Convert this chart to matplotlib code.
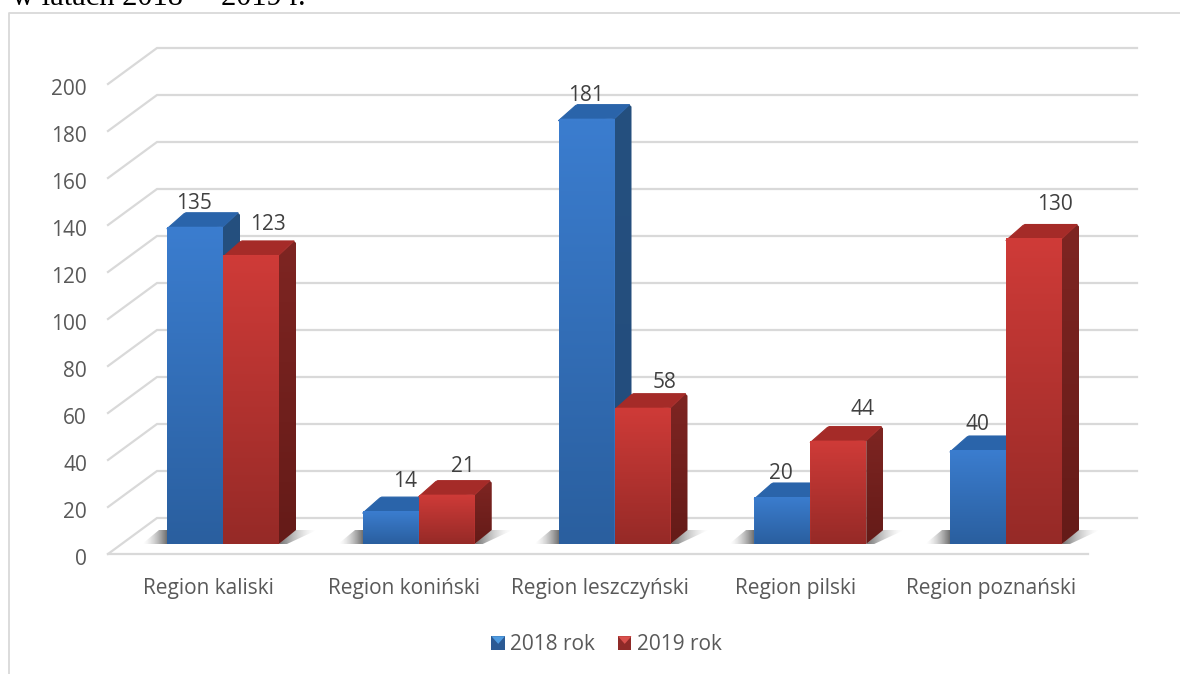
##Bar chart with a fake 3D look, regions 2018 vs 2019
import numpy as np
import matplotlib
matplotlib.use('Agg')
import matplotlib.pyplot as plt
from matplotlib.colors import to_rgb
from matplotlib.legend_handler import HandlerBase
from matplotlib.patches import Patch, Polygon, Rectangle

regions = ['Region kaliski', 'Region koniński', 'Region leszczyński', 'Region pilski', 'Region poznański']
values_2018 = [135, 14, 181, 20, 40]
values_2019 = [123, 21, 58, 44, 130]
series_names = ['2018 rok', '2019 rok']
y_ticks = [0, 20, 40, 60, 80, 100, 120, 140, 160, 180, 200]

plt.rcParams['font.family'] = ['Open Sans', 'DejaVu Sans']

#scale of the front plane of the bars, in pixels
px_per_cat = 195.75
px_per_val = 2.35
x0_px = 223
y0_px = 544

fig = plt.figure(figsize=(11.8, 6.74), dpi=100)
ax = fig.add_axes([0, 0, 1, 1])
ax.set_xlim(-x0_px / px_per_cat, (1180 - x0_px) / px_per_cat)
ax.set_ylim((y0_px - 674) / px_per_val, y0_px / px_per_val)
ax.axis('off')


def dx(px):
    return px / px_per_cat


def dy(px):
    return px / px_per_val


def gradient(points, top, bottom, zorder):
    #polygon filled with a vertical gradient
    points = np.array(points)
    colors = np.linspace(to_rgb(top), to_rgb(bottom), 64).reshape(64, 1, 3)
    extent = [points[:, 0].min(), points[:, 0].max(), points[:, 1].min(), points[:, 1].max()]
    im = ax.imshow(colors, extent=extent, origin='upper', aspect='auto', zorder=zorder, interpolation='bilinear')
    clip = Polygon(points, closed=True, transform=ax.transData, fc='none', ec='none')
    ax.add_patch(clip)
    im.set_clip_path(clip)


def shadow(points, dark_side, zorder):
    #soft grey shadow on the floor, dark_side says where it is darkest
    points = np.array(points)
    n = 64
    rgba = np.zeros((n, n, 4))
    rgba[:, :, :3] = 0.3
    ramp = np.linspace(0, 1, n) if dark_side == 'right' else np.linspace(1, 0, n)
    rgba[:, :, 3] = ramp[None, :] ** 1.6 * 0.8
    extent = [points[:, 0].min(), points[:, 0].max(), points[:, 1].min(), points[:, 1].max()]
    im = ax.imshow(rgba, extent=extent, origin='upper', aspect='auto', zorder=zorder, interpolation='bilinear')
    clip = Polygon(points, closed=True, transform=ax.transData, fc='none', ec='none')
    ax.add_patch(clip)
    im.set_clip_path(clip)


class SquareHandler(HandlerBase):
    #legend square with the light notch of the 3D marker
    def create_artists(self, legend, orig, xd, yd, width, height, fontsize, trans):
        dark = orig.get_facecolor()
        light = orig.get_edgecolor()
        square = Rectangle((-xd, -yd), width, height, fc=dark, ec='none', transform=trans)
        notch = Polygon([(-xd, height - yd), (width - xd, height - yd), (width / 2 - xd, height * 0.45 - yd)],
                        closed=True, fc=light, ec='none', transform=trans)
        return [square, notch]


#outer frame and the cut off line of the document above it
frame_y = y0_px / px_per_val - dy(12.5)
frame_x = -x0_px / px_per_cat + dx(9)
frame_c = '#d9d9d9'
ax.plot([frame_x, frame_x, ax.get_xlim()[1]], [ax.get_ylim()[0], frame_y, frame_y], color=frame_c, lw=1.3, zorder=1)
ax.text(frame_x + dx(3), frame_y + dy(7.5), 'w latach 2018  – 2019 r.', family='Liberation Serif', fontsize=22,
        color='black', ha='left', va='baseline')

#grid, floor is one line in front, each level runs back and then to the right
grid_c = '#d9d9d9'
left = (108 - x0_px) / px_per_cat
right = (1088 - x0_px) / px_per_cat
back_dx = dx(49)
front_off = dy(-10)
back_off = dy(26)
for v in y_ticks:
    y_front = v + front_off
    y_back = v + back_off
    ax.plot([left, left + back_dx, right + back_dx], [y_front, y_back, y_back], color=grid_c, lw=1.6, zorder=2,
            solid_joinstyle='miter')
    ax.text(left - dx(21), y_front - dy(3), str(v), ha='right', va='center_baseline', fontsize=15, color='#595959')
ax.plot([left, right], [front_off, front_off], color=grid_c, lw=1.6, zorder=2)

#bars
bar_w = dx(56)
side_x = dx(17)
side_y = dy(14)
cut_x = dx(2)
cut_y = dy(2)
colors = [
    dict(front=('#3b7dcf', '#2a5f9f'), side=('#25507f', '#234c7c'), top='#2a64aa'),
    dict(front=('#cf3b38', '#962a27'), side=('#7e2522', '#651b18'), top='#a52b28'),
]
for s, values in enumerate([values_2018, values_2019]):
    for i, v in enumerate(values):
        x_left = i - bar_w if s == 0 else i
        x_right = x_left + bar_w
        ax.bar(x_left, v, width=bar_w, align='edge', color=colors[s]['front'][0], zorder=5)
        gradient([(x_left, 0), (x_right, 0), (x_right, v - cut_y), (x_right - cut_x, v),
                  (x_left + cut_x, v), (x_left, v - cut_y)], colors[s]['front'][0], colors[s]['front'][1], 5.5)
        side = [(x_right, 0), (x_right + side_x, side_y), (x_right + side_x, v + side_y - cut_y),
                (x_right + side_x - cut_x, v + side_y), (x_right, v)]
        gradient(side, colors[s]['side'][0], colors[s]['side'][1], 4)
        top = [(x_left, v - cut_y), (x_left + side_x, v + side_y - cut_y / 2), (x_left + side_x + cut_x, v + side_y),
               (x_right + side_x - cut_x, v + side_y), (x_right, v)]
        ax.add_patch(Polygon(top, closed=True, fc=colors[s]['top'], ec=colors[s]['top'], lw=0.8, joinstyle='round', zorder=4.5))
for i in range(len(regions)):
    #shadows left of the blue bar and right of the red bar
    shadow([(i - bar_w - dx(25), 0), (i - bar_w, 0), (i - bar_w, dy(14)), (i - bar_w - dx(8), dy(14))], 'right', 3)
    shadow([(i + bar_w, 0), (i + bar_w + dx(8), 0), (i + bar_w + dx(38), dy(14)), (i + bar_w + dx(16), dy(14))], 'left', 3)

#value labels, nudged by hand like in the original
label_shift_2018 = [(-29, 0), (-14, 6), (-29, 0), (-29, 0), (-29, 2)]
label_shift_2019 = [(45, 2), (44, 0), (50, -3), (52, 3), (49, 5)]
for i in range(len(regions)):
    ax.text(i + dx(label_shift_2018[i][0]), values_2018[i] + dy(26 + label_shift_2018[i][1]), str(values_2018[i]),
            ha='center', va='center_baseline', fontsize=15, color='#404040', zorder=7)
    ax.text(i + dx(label_shift_2019[i][0]), values_2019[i] + dy(31 + label_shift_2019[i][1]), str(values_2019[i]),
            ha='center', va='center_baseline', fontsize=15, color='#404040', zorder=7)

for i, name in enumerate(regions):
    ax.text(i - dx(15), dy(-42), name, ha='center', va='center_baseline', fontsize=15, color='#595959')

handles = [Patch(facecolor='#2c5a94', edgecolor='#4f9be0', label=series_names[0]),
           Patch(facecolor='#8f2a28', edgecolor='#d9504c', label=series_names[1])]
leg = ax.legend(handles=handles, ncol=2, frameon=False, fontsize=15, loc='center',
                bbox_to_anchor=(606.5 / 1180, 1 - 645 / 674), handlelength=0.65, handleheight=0.65,
                handletextpad=0.25, columnspacing=1.1, labelcolor='#595959',
                handler_map={Patch: SquareHandler()})

fig.savefig('out.png', dpi=100)
